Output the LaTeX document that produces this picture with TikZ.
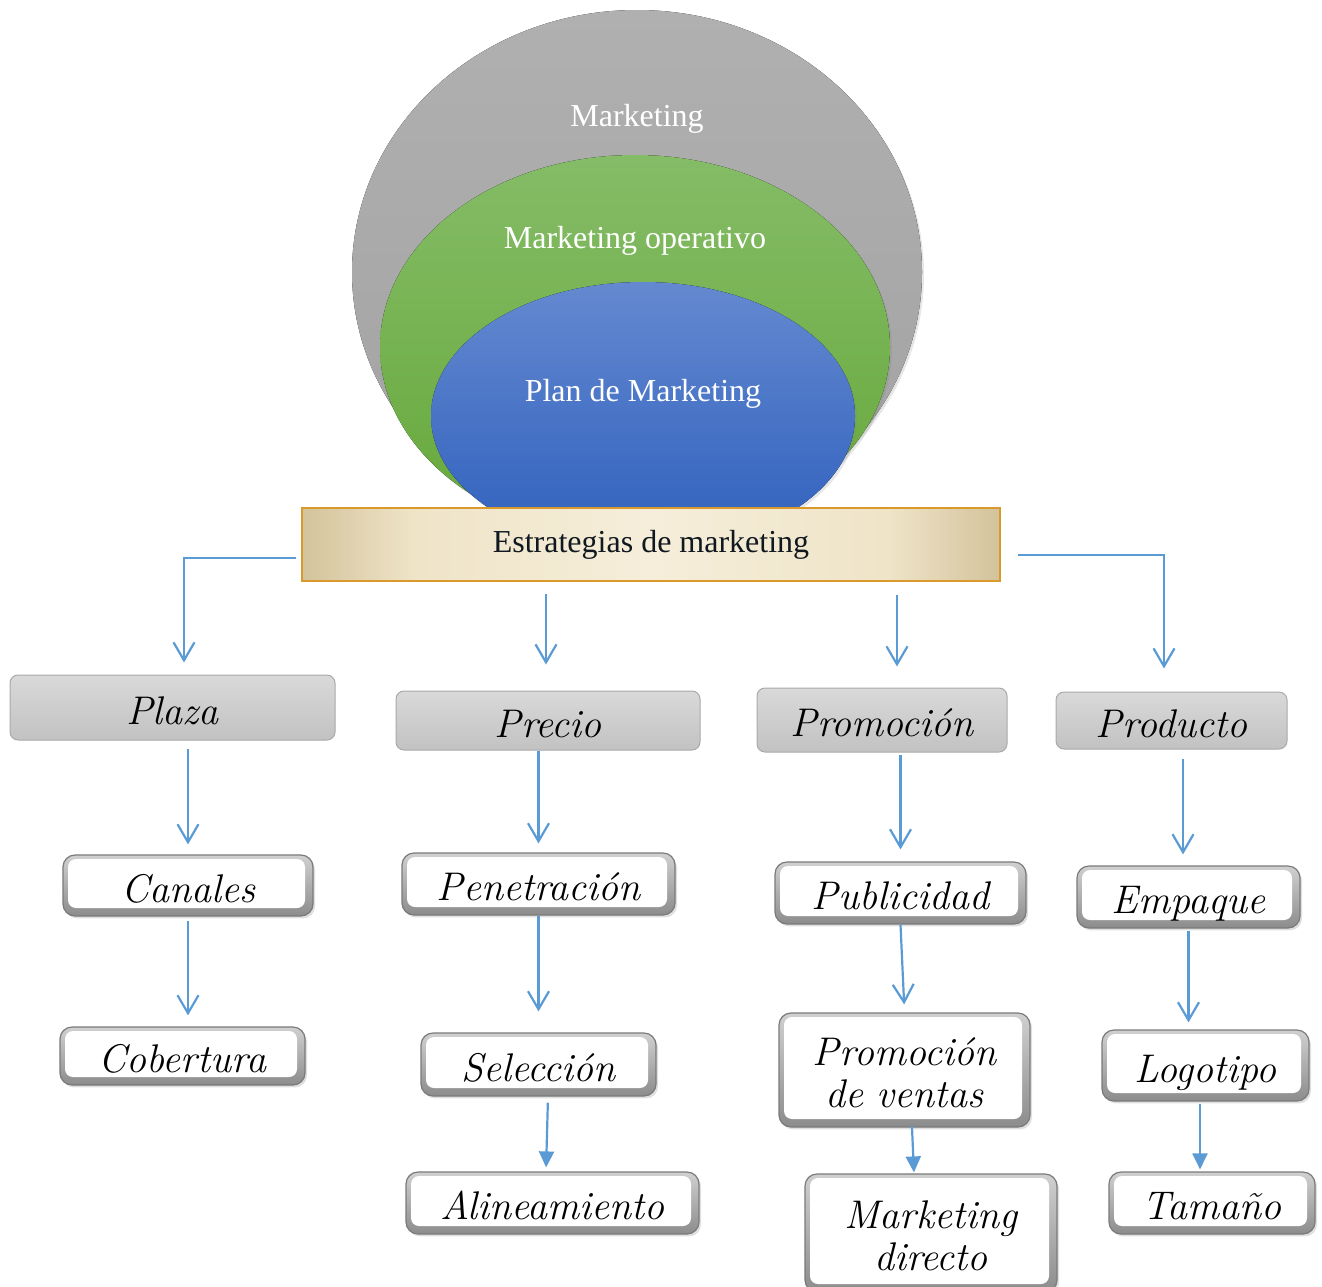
\documentclass[tikz,border=0pt]{standalone}
\usepackage{fontspec}
\newfontfamily\timesf{Liberation Serif}
\usetikzlibrary{arrows.meta,shadows}
\definecolor{arrowblue}{HTML}{5B9BD5}
\definecolor{elgraytop}{HTML}{B0B0B0}
\definecolor{elgraybot}{HTML}{A2A2A2}
\definecolor{elgreentop}{HTML}{85BC67}
\definecolor{elgreenbot}{HTML}{66A83A}
\definecolor{elbluetop}{HTML}{6489D0}
\definecolor{elbluebot}{HTML}{2F60BD}
\definecolor{bannerside}{HTML}{D3C39B}
\definecolor{bannerlight}{HTML}{EFE4C8}
\definecolor{bannermid}{HTML}{F6EEDA}
\definecolor{bannerborder}{HTML}{D99A2B}
\definecolor{cattop}{HTML}{D9D9D9}
\definecolor{catbot}{HTML}{C2C2C2}
\definecolor{catborder}{HTML}{A9A9A9}
\definecolor{beveltop}{HTML}{D0D0D0}
\definecolor{bevelbot}{HTML}{8C8C8C}
\definecolor{bevelline}{HTML}{7A7A7A}
\definecolor{bannertext}{HTML}{101820}
\pgfdeclarehorizontalshading{bannershade}{100bp}{color(0bp)=(bannerside); color(25bp)=(bannerside);
  color(33bp)=(bannerlight); color(50bp)=(bannermid); color(67bp)=(bannerlight);
  color(75bp)=(bannerside); color(100bp)=(bannerside)}
\newcommand\boxfont{\fontsize{20}{21}\selectfont\itshape}
\tikzset{
  oarr/.style={draw=arrowblue, line width=1.1pt, -{Straight Barb[length=9pt,width=10.5pt,line width=1.1pt]}},
  farr/.style={draw=arrowblue, line width=1.1pt, -{Triangle[length=8pt,width=7.5pt]}},
  cat/.style={rounded corners=4pt, draw=catborder, line width=0.5pt, top color=cattop, bottom color=catbot,
    inner sep=0pt, font=\boxfont, text height=18pt, text depth=1.5pt},
  wbox/.style={rounded corners=6pt, draw=bevelline, line width=0.6pt, top color=beveltop, bottom color=bevelbot,
    drop shadow={opacity=0.25, shadow xshift=1pt, shadow yshift=-1.2pt},
    path picture={\fill[white, rounded corners=4pt]
      ([shift={(2.5pt,4pt)}]path picture bounding box.south west) rectangle
      ([shift={(-4pt,-2pt)}]path picture bounding box.north east);},
    inner sep=0pt, align=center, font=\boxfont, text height=18pt, text depth=1.5pt},
  wbox2/.style={wbox, text height=39pt},
  elab/.style={anchor=base, text=white, font=\timesf\fontsize{16}{18}\selectfont},
  elshadow/.style={drop shadow={opacity=0.2, shadow xshift=1pt, shadow yshift=-1.2pt}},
  banner/.style={shading=bannershade, draw=bannerborder, line width=0.75pt, inner sep=0pt,
    text=bannertext, font=\timesf\fontsize{16}{18}\selectfont}
}
\begin{document}
\begin{tikzpicture}[x=0.5pt,y=-0.5pt]
\useasboundingbox (0,0) rectangle (1322,1286);
% ellipses
\fill[top color=elgraytop, bottom color=elgraybot, elshadow] (637,272) ellipse [x radius=285, y radius=262];
\fill[top color=elgreentop, bottom color=elgreenbot, elshadow] (635,347) ellipse [x radius=255, y radius=192];
\fill[top color=elbluetop, bottom color=elbluebot, elshadow] (643,416) ellipse [x radius=212, y radius=134];
\node[elab] (lmk) at (637,126) {Marketing};
\node[elab] (lop) at (635,248) {Marketing operativo};
\node[elab] (lpl) at (643,401) {Plan de Marketing};
% banner
\node[banner, minimum width=349pt, minimum height=36.5pt] (banner) at (651,544.5) {Estrategias de marketing};
% categories
\node[cat, minimum width=162.5pt, minimum height=32.5pt] (plaza) at (172.5,707.5) {Plaza};
\node[cat, minimum width=152pt, minimum height=29.5pt] (precio) at (548,720.5) {Precio};
\node[cat, minimum width=125pt, minimum height=32pt] (promo) at (882,720) {Promoción};
\node[cat, minimum width=115.5pt, minimum height=28.5pt] (producto) at (1171.5,720.5) {Producto};
% white boxes
\node[wbox, minimum width=125pt, minimum height=30.5pt] (canales) at (188,885.5) {Canales};
\node[wbox, minimum width=122.5pt, minimum height=29pt] (cobertura) at (182.5,1056) {Cobertura};
\node[wbox, minimum width=136.5pt, minimum height=31pt] (penetracion) at (538.5,884) {Penetración};
\node[wbox, minimum width=117.5pt, minimum height=31.5pt] (seleccion) at (538.5,1064.5) {Selección};
\node[wbox, minimum width=146.5pt, minimum height=31pt] (alineamiento) at (552.5,1203) {Alineamiento};
\node[wbox, minimum width=125.5pt, minimum height=31pt] (publicidad) at (900.5,893) {Publicidad};
\node[wbox2, minimum width=125.5pt, minimum height=57pt] (promventas) at (904.5,1070) {Promoción\\de ventas};
\node[wbox2, minimum width=126pt, minimum height=59pt] (mdirecto) at (931,1233) {Marketing\\directo};
\node[wbox, minimum width=111.5pt, minimum height=31pt] (empaque) at (1188.5,897) {Empaque};
\node[wbox, minimum width=103.5pt, minimum height=35.5pt] (logotipo) at (1205.5,1065.5) {Logotipo};
\node[wbox, minimum width=103pt, minimum height=31pt] (tamano) at (1212,1203) {Tamaño};
% arrows from banner
\draw[oarr] ([xshift=-2.5pt,yshift=-6.75pt]banner.west) -| ([xshift=5.75pt,yshift=6pt]plaza.north);
\draw[oarr] ([xshift=-52.5pt,yshift=-6pt]banner.south) -- ([xshift=-1pt,yshift=13pt]precio.north);
\draw[oarr] ([xshift=123pt,yshift=-6.5pt]banner.south) -- ([xshift=7.5pt,yshift=10.5pt]promo.north);
\draw[oarr] ([xshift=8.5pt,yshift=-5.25pt]banner.east) -| ([xshift=-3.75pt,yshift=11.5pt]producto.north);
% plaza column
\draw[oarr, shorten <=4pt, shorten >=5pt] (plaza.south -| canales.north) -- (canales.north);
\draw[oarr, shorten <=2pt, shorten >=5.5pt] (canales.south) -- (canales.south |- cobertura.north);
% precio column
\draw[oarr, shorten >=4.5pt] (penetracion.north |- precio.south) -- (penetracion.north);
\draw[oarr, shorten >=10.5pt] (penetracion.south) -- (penetracion.south |- seleccion.north);
\draw[farr, shorten <=3pt, shorten >=2pt] ([xshift=4.75pt]seleccion.south) -- ([xshift=-3.25pt]alineamiento.north);
% promocion column
\draw[oarr, shorten <=1pt, shorten >=6pt] (publicidad.north |- promo.south) -- (publicidad.north);
\draw[oarr, shorten >=4pt] (publicidad.south) -- (promventas.north);
\draw[farr, shorten <=-1pt, shorten >=0.5pt] ([xshift=3.75pt]promventas.south) -- ([xshift=-8.5pt]mdirecto.north);
% producto column
\draw[oarr, shorten <=4.5pt, shorten >=5.5pt] ([xshift=5.75pt]producto.south) -- ([xshift=-2.75pt]empaque.north);
\draw[oarr, shorten <=1pt, shorten >=3.5pt] (empaque.south) -- (empaque.south |- logotipo.north);
\draw[farr, shorten <=1pt, shorten >=1pt] ([xshift=-2.75pt]logotipo.south) -- ([xshift=-6pt]tamano.north);
\end{tikzpicture}
\end{document}
